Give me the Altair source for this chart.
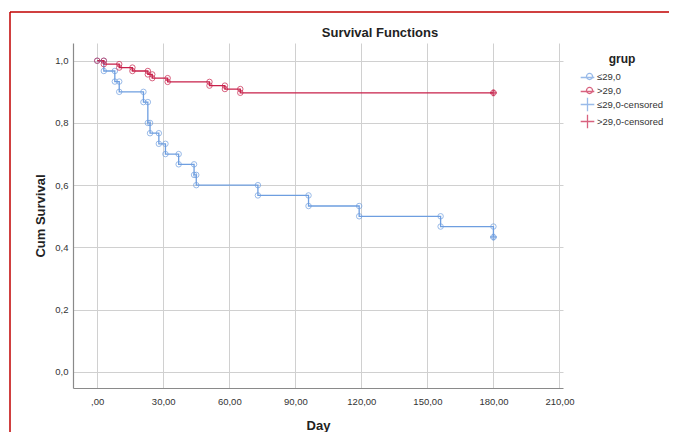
import altair as alt
import pandas as pd

# ---- data ----
groups = ["≤29,0", ">29,0"]
censored_labels = ["≤29,0-censored", ">29,0-censored"]
colors = ["#6E9EE0", "#C8204A"]

low_times = [3, 8, 10, 21, 23, 24, 28, 31, 37, 44, 45, 73, 96, 119, 156, 180]
low_surv = [0.967, 0.933, 0.900, 0.867, 0.800, 0.767, 0.733, 0.700, 0.667,
            0.633, 0.600, 0.567, 0.533, 0.500, 0.467, 0.433]
high_times = [3, 10, 16, 23, 25, 32, 51, 58, 65]
high_surv = [0.989, 0.978, 0.967, 0.956, 0.944, 0.932, 0.920, 0.909, 0.897]
censor_time = [180, 180]
censor_surv = [0.433, 0.897]
end_time = 180

x_ticks = [0, 30, 60, 90, 120, 150, 180, 210]
y_ticks = [0.0, 0.2, 0.4, 0.6, 0.8, 1.0]
chart_title = "Survival Functions"

FONT = "Liberation Sans"


def step_rows(times, surv, label):
    pts = [(0, 1.0)]
    prev = 1.0
    for t, s in zip(times, surv):
        pts.append((t, prev))
        pts.append((t, s))
        prev = s
    if pts[-1][0] < end_time:
        pts.append((end_time, prev))
    return [{"day": d, "surv": v, "series": label, "i": k} for k, (d, v) in enumerate(pts)]


curve_df = pd.DataFrame(step_rows(low_times, low_surv, groups[0]) +
                        step_rows(high_times, high_surv, groups[1]))
cens_df = pd.DataFrame({"day": censor_time, "surv": censor_surv, "series": censored_labels})

domain_all = groups + censored_labels
color_scale = alt.Scale(domain=domain_all, range=colors + colors)
line_circle = ("M-1,0.15L1,0.15M0.75,0A0.45,0.45,0,1,1,-0.15,0"
               "A0.45,0.45,0,1,1,0.75,0")
cross = "M-1,0L1,0M0,-1L0,1"
shape_scale = alt.Scale(domain=domain_all, range=[line_circle, line_circle, cross, cross])

x_enc = alt.X("day:Q", scale=alt.Scale(domain=[-11, 211.6], nice=False, zero=False),
              axis=alt.Axis(values=x_ticks, title="Day",
                            labelExpr="datum.value == 0 ? ',00' : replace(format(datum.value, '.2f'), '.', ',')",
                            labelPadding=8, titlePadding=14))
y_enc = alt.Y("surv:Q", scale=alt.Scale(domain=[-0.052, 1.057], nice=False, zero=False),
              axis=alt.Axis(values=y_ticks, title="Cum Survival",
                            labelExpr="replace(format(datum.value, '.1f'), '.', ',')",
                            labelPadding=5, titlePadding=7))

legend = alt.Legend(title="grup", orient="none", legendX=507, legendY=11,
                    titleAnchor="middle", titleFont=FONT, titleFontSize=12, titleFontWeight="bold",
                    titleColor="#222", titlePadding=3,
                    labelFont=FONT, labelFontSize=9.5, labelColor="#333", labelOffset=2,
                    symbolSize=185, symbolStrokeWidth=1.3, rowPadding=-6)
color_enc = alt.Color("series:N", scale=color_scale, legend=legend)

lines = alt.Chart(curve_df).mark_line(strokeWidth=1.3).encode(
    x=x_enc, y=y_enc, color=color_enc, order="i:Q",
)
circles = alt.Chart(curve_df).mark_point(shape="circle", filled=False, size=30, strokeWidth=1).encode(
    x=x_enc, y=y_enc, color=color_enc,
)
censored = alt.Chart(cens_df).mark_point(filled=False, size=45, strokeWidth=2.2).encode(
    x=x_enc, y=y_enc, color=color_enc,
    shape=alt.Shape("series:N", scale=shape_scale, legend=legend),
)

one = pd.DataFrame({"a": [0]})
border_top = alt.Chart(one).mark_rule(color="#C00000", strokeWidth=1.5).encode(
    x=alt.value(-63), x2=alt.value(600), y=alt.value(-31))
border_left = alt.Chart(one).mark_rule(color="#C00000", strokeWidth=1.5).encode(
    x=alt.value(-63), y=alt.value(-31), y2=alt.value(400))
title_text = alt.Chart(one).mark_text(font=FONT, fontSize=13, fontWeight="bold", color="#222",
                                      align="center", baseline="alphabetic").encode(
    x=alt.value(307), y=alt.value(-6), text=alt.value(chart_title))

chart = alt.layer(border_top, border_left, title_text, lines, circles, censored).properties(
    width=490, height=345,
    padding={"left": 65, "top": 35, "right": 106, "bottom": 44},
    autosize=alt.AutoSizeParams(type="none"),
).configure_view(stroke=None).configure_axis(
    grid=True, gridColor="#d0d0d0", gridWidth=1,
    domainColor="#8a8a8a", domainWidth=1.2, ticks=False,
    labelFont=FONT, labelFontSize=9.5, labelColor="#333",
    titleFont=FONT, titleFontSize=13, titleFontWeight="bold", titleColor="#222",
)

chart.save("out.html", embed_options={"renderer": "svg", "actions": False})
